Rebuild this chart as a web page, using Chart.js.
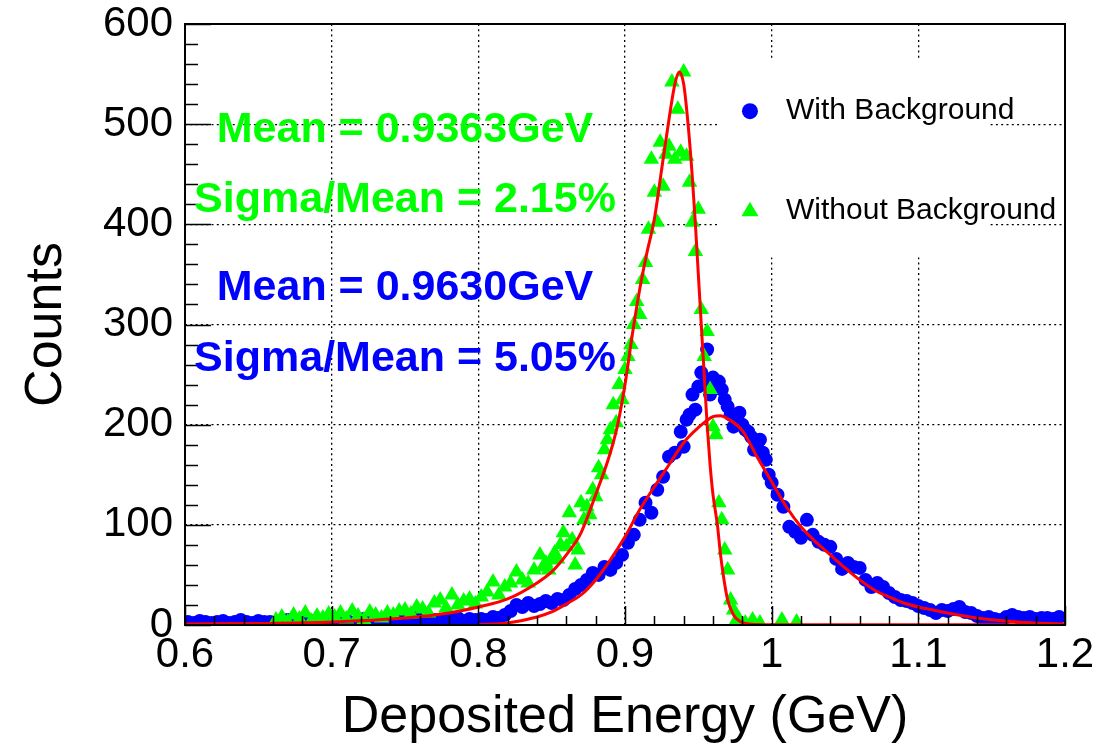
<!DOCTYPE html>
<html>
<head>
<meta charset="utf-8">
<script src="https://cdn.jsdelivr.net/npm/chart.js@4.4.1/dist/chart.umd.min.js"></script>
<style>
  html, body { margin: 0; padding: 0; background: #fff; }
</style>
</head>
<body>
<canvas id="c" width="1119" height="751"></canvas>
<script>
// Energía depositada (GeV) y cuentas
const blueE = [
  0.602,0.606,0.610,0.614,0.618,0.622,0.626,0.630,0.634,0.638,0.642,0.646,0.650,0.654,0.658,0.662,0.666,0.670,0.674,0.678,0.682,0.686,0.690,0.694,0.698,
  0.702,0.706,0.710,0.714,0.718,0.722,0.726,0.730,0.734,0.738,0.742,0.746,0.750,0.754,0.758,0.762,0.766,0.770,0.774,0.778,0.782,0.786,0.790,0.794,0.798,
  0.802,0.806,0.810,0.814,0.818,0.822,0.826,0.830,0.834,0.838,0.842,0.846,0.850,0.854,0.858,
  0.862,0.866,0.870,0.874,0.878,0.882,0.886,0.890,0.894,0.898,
  0.902,0.906,0.910,0.914,0.918,0.922,0.926,0.930,0.934,
  0.938,0.940,0.942,0.944,0.946,0.948,0.950,0.952,0.954,0.956,0.958,0.960,0.962,0.964,0.966,0.968,0.970,0.972,0.974,0.976,0.978,0.980,0.982,0.984,0.986,0.988,0.990,0.992,0.994,0.996,0.998,1.000,
  1.004,1.008,1.012,1.016,1.020,1.024,1.028,1.032,1.036,1.040,1.044,1.048,1.052,1.056,1.060,1.064,1.068,1.072,1.076,1.080,1.084,1.088,1.092,1.096,1.100,
  1.104,1.108,1.112,1.116,1.120,1.124,1.128,1.132,1.136,1.140,1.144,1.148,1.152,1.156,1.160,1.164,1.168,1.172,1.176,1.180,1.184,1.188,1.192,1.196
];
const blueN = [
  3,2,4,3,2,3,4,2,3,5,3,2,4,3,3,2,4,5,3,2,3,4,3,2,3,
  4,3,5,2,4,6,3,5,4,3,6,4,5,3,7,4,6,5,3,6,5,7,4,6,5,
  6,5,8,7,10,14,20,18,22,19,21,24,22,26,25,
  30,36,40,45,52,50,58,55,62,70,
  82,90,105,122,112,135,148,168,172,
  193,178,205,210,230,215,238,252,240,275,230,247,238,243,235,225,218,210,198,202,212,200,195,193,188,175,180,185,172,165,150,142,
  130,118,98,93,87,105,90,83,80,78,66,56,62,58,57,45,38,42,38,32,28,25,24,22,19,
  17,15,12,15,14,16,18,13,12,9,7,8,6,5,8,10,8,7,8,6,7,7,6,8
];

const greenE = [
  0.662,0.666,0.670,0.674,0.678,0.682,0.686,0.690,0.694,0.698,
  0.702,0.706,0.710,0.714,0.718,0.722,0.726,0.730,0.734,0.738,
  0.742,0.746,0.750,0.754,0.758,0.762,0.766,0.770,0.774,0.778,
  0.782,0.786,0.790,0.794,0.798,0.802,0.806,0.810,0.814,0.818,
  0.822,0.826,0.830,0.834,0.838,
  0.842,0.844,0.846,0.848,0.850,0.852,0.854,0.856,0.858,0.860,0.862,0.864,0.866,0.868,0.870,
  0.872,0.874,0.876,0.878,0.880,0.882,0.884,0.886,0.888,0.890,0.892,0.894,0.896,0.898,
  0.900,0.902,0.904,0.906,0.908,0.910,0.912,0.914,0.916,0.918,0.920,0.922,0.924,0.926,0.928,0.930,0.932,0.934,0.936,0.938,
  0.940,0.942,0.944,0.946,0.948,0.950,0.952,0.954,0.956,0.958,0.960,0.962,0.964,0.966,0.968,0.970,0.972,0.974,0.976,0.978,
  0.982,0.987,0.992,1.007,1.017
];
const greenN = [
  5,8,3,10,6,12,4,9,7,11,
  8,12,6,14,9,5,13,10,7,12,
  10,14,15,11,18,16,12,22,25,17,
  30,20,24,26,21,28,33,43,30,38,
  42,53,45,42,55,
  70,58,62,55,65,72,66,80,92,78,112,85,60,75,122,
  105,118,110,135,128,157,150,175,185,195,220,202,240,225,
  255,268,280,300,323,310,345,362,395,465,432,402,482,438,470,478,542,465,515,472,
  552,468,442,402,373,415,315,268,293,235,198,190,122,105,75,55,25,15,5,5,
  2,5,2,5,3
];

// Curvas de ajuste (rojo)
const fitGreenE = [0.60,0.65,0.70,0.75,0.78,0.80,0.82,0.84,0.85,0.86,0.87,0.88,0.89,0.895,0.90,0.905,0.91,0.915,0.92,0.925,0.93,0.934,0.937,0.940,0.943,0.946,0.948,0.950,0.952,0.954,0.956,0.958,0.960,0.963,0.965,0.967,0.970,0.974,0.978,0.982,0.99,1.00,1.20];
const fitGreenN = [1,1.5,3,7,12,18,26,42,53,70,92,130,172,200,240,290,335,372,405,455,505,540,552,540,500,445,400,350,300,250,200,160,130,100,72,50,25,10,4,1.5,0.5,0.3,0.3];

const fitBlueE = [0.80,0.82,0.84,0.85,0.86,0.87,0.88,0.89,0.90,0.91,0.92,0.93,0.94,0.95,0.96,0.965,0.97,0.98,0.99,1.00,1.01,1.02,1.03,1.04,1.05,1.06,1.07,1.08,1.09,1.10,1.11,1.12,1.14,1.16,1.18,1.20];
const fitBlueN = [0.5,2,8,13,21,30,45,65,88,115,138,160,182,197,208,209,206,194,168,143,118,98,83,70,57,45,35,28,22,18,15,12,7,4,2,1];

const xTicks = [0.6,0.7,0.8,0.9,1.0,1.1,1.2];
const yTicks = [0,100,200,300,400,500,600];

const notas = [
  { text: 'Mean = 0.9363GeV', color: '#00ff00', e: 0.750, n: 482 },
  { text: 'Sigma/Mean = 2.15%', color: '#00ff00', e: 0.750, n: 412 },
  { text: 'Mean = 0.9630GeV', color: '#0000ff', e: 0.750, n: 324 },
  { text: 'Sigma/Mean = 5.05%', color: '#0000ff', e: 0.750, n: 254 }
];

const FAM = '"Liberation Sans", Arial, sans-serif';
const pts = (xs, ys) => xs.map((x, i) => ({ x: x, y: ys[i] }));

const decor = {
  id: 'decor',
  beforeDatasetsDraw(chart) {
    const { ctx } = chart;
    const sx = chart.scales.x, sy = chart.scales.y;
    // caja blanca de la leyenda
    const x0 = sx.getPixelForValue(0.9627), x1 = sx.getPixelForValue(1.1489);
    const y0 = sy.getPixelForValue(565), y1 = sy.getPixelForValue(367);
    ctx.save();
    ctx.fillStyle = '#fff';
    ctx.fillRect(x0, y0, x1 - x0, y1 - y0);
    ctx.restore();
  },
  afterDraw(chart) {
    const { ctx, chartArea: a } = chart;
    const sx = chart.scales.x, sy = chart.scales.y;
    ctx.save();
    // marco
    ctx.strokeStyle = '#000';
    ctx.lineWidth = 2;
    ctx.strokeRect(a.left, a.top, a.right - a.left, a.bottom - a.top);
    // marcas hacia dentro
    ctx.lineWidth = 1.5;
    ctx.beginPath();
    for (let k = 0; k <= 30; k++) {
      const px = Math.round(sx.getPixelForValue(0.6 + k * 0.02)) + 0.5;
      const len = k % 5 === 0 ? 19 : 9;
      ctx.moveTo(px, a.bottom); ctx.lineTo(px, a.bottom - len);
    }
    for (let k = 0; k <= 30; k++) {
      const py = Math.round(sy.getPixelForValue(k * 20)) + 0.5;
      const len = k % 5 === 0 ? 26 : 13;
      ctx.moveTo(a.left, py); ctx.lineTo(a.left + len, py);
    }
    ctx.stroke();

    // leyenda
    const mx = sx.getPixelForValue(0.9852), tx = sx.getPixelForValue(1.0098);
    const r1 = sy.getPixelForValue(513), r2 = sy.getPixelForValue(414);
    ctx.fillStyle = '#0000ff';
    ctx.beginPath(); ctx.arc(mx, r1, 8, 0, Math.PI * 2); ctx.fill();
    ctx.fillStyle = '#00ff00';
    ctx.beginPath();
    ctx.moveTo(mx, r2 - 8.5); ctx.lineTo(mx + 8.5, r2 + 6); ctx.lineTo(mx - 8.5, r2 + 6);
    ctx.closePath(); ctx.fill();
    ctx.fillStyle = '#000';
    ctx.font = '30px ' + FAM;
    ctx.textBaseline = 'middle';
    ctx.textAlign = 'left';
    ctx.fillText('With Background', tx, r1);
    ctx.fillText('Without Background', tx, r2);

    // textos de media y sigma
    ctx.font = 'bold 43px ' + FAM;
    ctx.textAlign = 'center';
    ctx.textBaseline = 'alphabetic';
    notas.forEach(n => {
      ctx.fillStyle = n.color;
      ctx.fillText(n.text, sx.getPixelForValue(n.e), sy.getPixelForValue(n.n));
    });
    ctx.restore();
  }
};

const gridColor = ctx => (ctx.index === 0 || ctx.index === 6) ? 'rgba(0,0,0,0)' : '#000';

new Chart(document.getElementById('c'), {
  type: 'scatter',
  data: {
    datasets: [
      { data: pts(fitGreenE, fitGreenN), showLine: true, pointRadius: 0, borderColor: '#ff0000', borderWidth: 3, cubicInterpolationMode: 'monotone', fill: false },
      { data: pts(fitBlueE, fitBlueN), showLine: true, pointRadius: 0, borderColor: '#ff0000', borderWidth: 3, cubicInterpolationMode: 'monotone', fill: false },
      { label: 'Without Background', data: pts(greenE, greenN), showLine: false, pointStyle: 'triangle', pointRadius: 9, pointBackgroundColor: '#00ff00', pointBorderWidth: 0 },
      { label: 'With Background', data: pts(blueE, blueN), showLine: false, pointStyle: 'circle', pointRadius: 7, pointBackgroundColor: '#0000ff', pointBorderWidth: 0 }
    ]
  },
  options: {
    responsive: false,
    animation: false,
    layout: { padding: { top: 24, right: 54, left: 0, bottom: 0 } },
    plugins: { legend: { display: false }, tooltip: { enabled: false } },
    scales: {
      x: {
        type: 'linear', min: 0.6, max: 1.2,
        afterBuildTicks: s => { s.ticks = xTicks.map(v => ({ value: v })); },
        ticks: { font: { family: FAM, size: 42 }, color: '#000', padding: 5, maxRotation: 0, autoSkip: false,
                 callback: v => String(+v.toFixed(1)) },
        grid: { color: gridColor, lineWidth: 1.3, drawTicks: false },
        border: { display: false, dash: [2, 3.3] },
        title: { display: true, text: 'Deposited Energy (GeV)', color: '#000', font: { family: FAM, size: 52 }, padding: { top: 0, bottom: 2 } },
        afterFit: s => { s.height = 126; s.paddingLeft = 0; s.paddingRight = 0; }
      },
      y: {
        min: 0, max: 600,
        afterBuildTicks: s => { s.ticks = yTicks.map(v => ({ value: v })); },
        ticks: { font: { family: FAM, size: 42 }, color: '#000', padding: 12 },
        grid: { color: gridColor, lineWidth: 1.3, drawTicks: false },
        border: { display: false, dash: [2, 3.3] },
        title: { display: true, text: 'Counts', color: '#000', font: { family: FAM, size: 52 }, padding: { top: 15, bottom: 0 } },
        afterFit: s => { s.width = 185; s.paddingTop = 0; s.paddingBottom = 0; }
      }
    }
  },
  plugins: [decor]
});
</script>
</body>
</html>
